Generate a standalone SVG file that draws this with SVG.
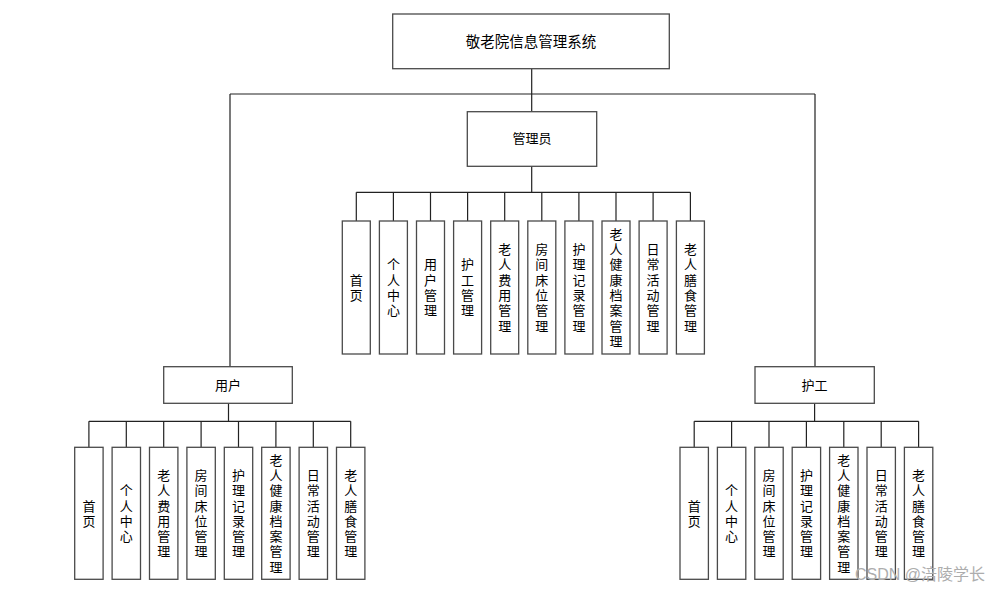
<svg xmlns="http://www.w3.org/2000/svg" width="1006" height="591" viewBox="0 0 1006 591">
<style>
.box{fill:#ffffff;stroke:#4a4a4a;stroke-width:1.3}
.ln{fill:none;stroke:#222222;stroke-width:1.2}
.t{font-family:"Noto Sans CJK SC","Liberation Sans",sans-serif;font-size:13px;fill:#000000;text-anchor:middle}
.v{font-family:"Noto Sans CJK SC","Liberation Sans",sans-serif;font-size:13px;fill:#000000;text-anchor:middle;writing-mode:vertical-rl;letter-spacing:2.3px}
.tt{font-family:"Noto Sans CJK SC","Liberation Sans",sans-serif;font-size:14.5px;fill:#000000;text-anchor:middle}
.wm{font-family:"Liberation Sans","Noto Sans CJK SC",sans-serif;font-size:16px;fill:#adadad}
</style>
<rect width="1006" height="591" fill="#ffffff"/>
<g id="connectors">
<path class="ln" d="M531.7 68.7V111.7M230 94H815M230 94V366.7M815 94V366.7"/>
<path class="ln" d="M531.7 166.3V192.3M356.3 192.3H690.4"/>
<path class="ln" d="M356.3 192.3V221M393.4 192.3V221M430.5 192.3V221M467.6 192.3V221M504.7 192.3V221M541.8 192.3V221M578.9 192.3V221M616 192.3V221M653.1 192.3V221M690.4 192.3V221"/>
<path class="ln" d="M228.5 403.3V421.3M88.9 421.3H350.7"/>
<path class="ln" d="M88.9 421.3V447.3M126.3 421.3V447.3M163.7 421.3V447.3M201.1 421.3V447.3M238.5 421.3V447.3M275.9 421.3V447.3M313.3 421.3V447.3M350.7 421.3V447.3"/>
<path class="ln" d="M814.6 403.3V421.3M694.2 421.3H918.6"/>
<path class="ln" d="M694.2 421.3V447.3M731.6 421.3V447.3M769 421.3V447.3M806.4 421.3V447.3M843.8 421.3V447.3M881.2 421.3V447.3M918.6 421.3V447.3"/>
</g>
<g id="root"><rect class="box" x="392.7" y="14" width="276.6" height="54.7"/><text class="tt" x="531" y="46.7">敬老院信息管理系统</text></g>
<g id="admin"><rect class="box" x="467.3" y="111.7" width="129.4" height="54.6"/><text class="t" x="532" y="143">管理员</text></g>
<g id="user"><rect class="box" x="163.7" y="366.7" width="128.6" height="36.6"/><text class="t" x="228" y="389.5">用户</text></g>
<g id="nurse"><rect class="box" x="755" y="366.7" width="119.3" height="36.6"/><text class="t" x="814.6" y="389.5">护工</text></g>

<g id="a1"><rect class="box" x="342.3" y="221" width="28" height="133"/><text class="v" x="356.3" y="288.6">首页</text></g>
<g id="a2"><rect class="box" x="379.4" y="221" width="28" height="133"/><text class="v" x="393.4" y="288.6">个人中心</text></g>
<g id="a3"><rect class="box" x="416.5" y="221" width="28" height="133"/><text class="v" x="430.5" y="288.6">用户管理</text></g>
<g id="a4"><rect class="box" x="453.6" y="221" width="28" height="133"/><text class="v" x="467.6" y="288.6">护工管理</text></g>
<g id="a5"><rect class="box" x="490.7" y="221" width="28" height="133"/><text class="v" x="504.7" y="288.6">老人费用管理</text></g>
<g id="a6"><rect class="box" x="527.8" y="221" width="28" height="133"/><text class="v" x="541.8" y="288.6">房间床位管理</text></g>
<g id="a7"><rect class="box" x="564.9" y="221" width="28" height="133"/><text class="v" x="578.9" y="288.6">护理记录管理</text></g>
<g id="a8"><rect class="box" x="602" y="221" width="28" height="133"/><text class="v" x="616" y="288.6">老人健康档案管理</text></g>
<g id="a9"><rect class="box" x="639.1" y="221" width="28" height="133"/><text class="v" x="653.1" y="288.6">日常活动管理</text></g>
<g id="a10"><rect class="box" x="676.4" y="221" width="28" height="133"/><text class="v" x="690.4" y="288.6">老人膳食管理</text></g>

<g id="u1"><rect class="box" x="74.7" y="447.3" width="28.4" height="132"/><text class="v" x="88.9" y="514.4">首页</text></g>
<g id="u2"><rect class="box" x="112.1" y="447.3" width="28.4" height="132"/><text class="v" x="126.3" y="514.4">个人中心</text></g>
<g id="u3"><rect class="box" x="149.5" y="447.3" width="28.4" height="132"/><text class="v" x="163.7" y="514.4">老人费用管理</text></g>
<g id="u4"><rect class="box" x="186.9" y="447.3" width="28.4" height="132"/><text class="v" x="201.1" y="514.4">房间床位管理</text></g>
<g id="u5"><rect class="box" x="224.3" y="447.3" width="28.4" height="132"/><text class="v" x="238.5" y="514.4">护理记录管理</text></g>
<g id="u6"><rect class="box" x="261.7" y="447.3" width="28.4" height="132"/><text class="v" x="275.9" y="514.4">老人健康档案管理</text></g>
<g id="u7"><rect class="box" x="299.1" y="447.3" width="28.4" height="132"/><text class="v" x="313.3" y="514.4">日常活动管理</text></g>
<g id="u8"><rect class="box" x="336.5" y="447.3" width="28.4" height="132"/><text class="v" x="350.7" y="514.4">老人膳食管理</text></g>

<g id="n1"><rect class="box" x="680" y="447.3" width="28.4" height="132"/><text class="v" x="694.2" y="514.4">首页</text></g>
<g id="n2"><rect class="box" x="717.4" y="447.3" width="28.4" height="132"/><text class="v" x="731.6" y="514.4">个人中心</text></g>
<g id="n3"><rect class="box" x="754.8" y="447.3" width="28.4" height="132"/><text class="v" x="769" y="514.4">房间床位管理</text></g>
<g id="n4"><rect class="box" x="792.2" y="447.3" width="28.4" height="132"/><text class="v" x="806.4" y="514.4">护理记录管理</text></g>
<g id="n5"><rect class="box" x="829.6" y="447.3" width="28.4" height="132"/><text class="v" x="843.8" y="514.4">老人健康档案管理</text></g>
<g id="n6"><rect class="box" x="867" y="447.3" width="28.4" height="132"/><text class="v" x="881.2" y="514.4">日常活动管理</text></g>
<g id="n7"><rect class="box" x="904.4" y="447.3" width="28.4" height="132"/><text class="v" x="918.6" y="514.4">老人膳食管理</text></g>

<text class="wm" x="855" y="580">CSDN @涪陵学长</text>
</svg>
